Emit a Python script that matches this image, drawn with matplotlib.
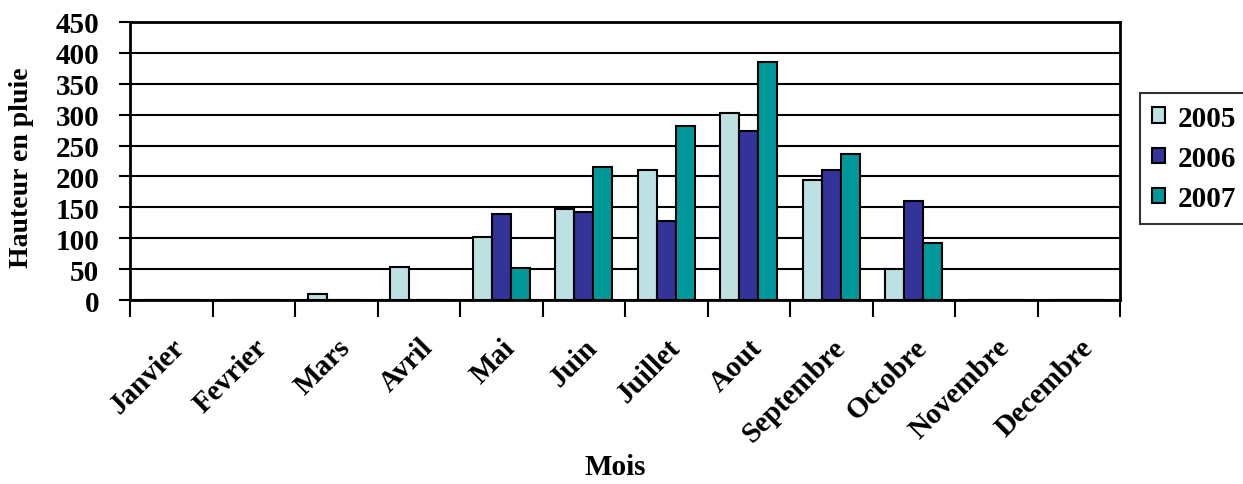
import numpy as np
import matplotlib.pyplot as plt

mois = ['Janvier', 'Fevrier', 'Mars', 'Avril', 'Mai', 'Juin', 'Juillet',
        'Aout', 'Septembre', 'Octobre', 'Novembre', 'Decembre']
annees = ['2005', '2006', '2007']
pluie_2005 = [0, 0, 9, 53, 102, 148, 210, 303, 195, 50, 0, 0]
pluie_2006 = [0, 0, 0, 0, 140, 143, 128, 273, 210, 160, 0, 0]
pluie_2007 = [0, 0, 0, 0, 52, 215, 282, 385, 236, 93, 0, 0]
couleurs = ['#BDE0E3', '#333399', '#009999']

plt.rcParams['font.family'] = ['Liberation Serif', 'DejaVu Serif']
plt.rcParams['font.weight'] = 'bold'

fig = plt.figure(figsize=(12.43, 4.85), dpi=100)
ax = fig.add_axes([130 / 1243, 1 - 301 / 485, 990 / 1243, 278 / 485])

x = np.arange(len(mois))
largeur = 0.23
series = [pluie_2005, pluie_2006, pluie_2007]
for i, (valeurs, couleur, annee) in enumerate(zip(series, couleurs, annees)):
    ax.bar(x + (i - 1) * largeur, valeurs, largeur, color=couleur,
           edgecolor='black', linewidth=1.5, label=annee, zorder=3)

ax.set_xlim(-0.5, len(mois) - 0.5)
ax.set_ylim(0, 450)
ax.set_yticks(range(0, 451, 50))
ax.yaxis.grid(True, color='black', linewidth=1.5, zorder=0)
ax.set_axisbelow(True)

# graduations entre les mois, étiquettes au centre
ax.set_xticks(np.arange(-0.5, len(mois), 1.0))
ax.set_xticklabels([])
ax.set_xticks(x, minor=True)
ax.set_xticklabels(mois, minor=True, rotation=45, ha='right',
                   rotation_mode='anchor', fontsize=21, fontweight='bold')
ax.tick_params(axis='x', which='minor', length=0, pad=24)
ax.tick_params(axis='x', which='major', length=12, width=1.5, direction='out')
ax.tick_params(axis='y', length=8, width=1.5, direction='out', labelsize=21,
               pad=14)
for lab in ax.get_yticklabels():
    lab.set_fontweight('bold')

for cote in ['left', 'bottom', 'right', 'top']:
    ax.spines[cote].set_linewidth(2)
    ax.spines[cote].set_color('black')

fig.text(22 / 1243, 1 - 168 / 485, 'Hauteur en pluie', fontsize=20,
         fontweight='bold', rotation=90, ha='center', va='center')
fig.text(615 / 1243, 1 - 468 / 485, 'Mois', fontsize=21, fontweight='bold',
         ha='center', va='center')

leg = fig.legend(loc='upper left', bbox_to_anchor=(1140 / 1243, 1 - 94 / 485),
                 frameon=True, fancybox=False, edgecolor='black',
                 prop={'size': 21, 'weight': 'bold'}, handlelength=0.45,
                 handleheight=0.45, handletextpad=0.45, labelspacing=0.45,
                 borderpad=0.4, borderaxespad=0)
leg.get_frame().set_linewidth(1.5)

fig.savefig('out.png', dpi=100)
